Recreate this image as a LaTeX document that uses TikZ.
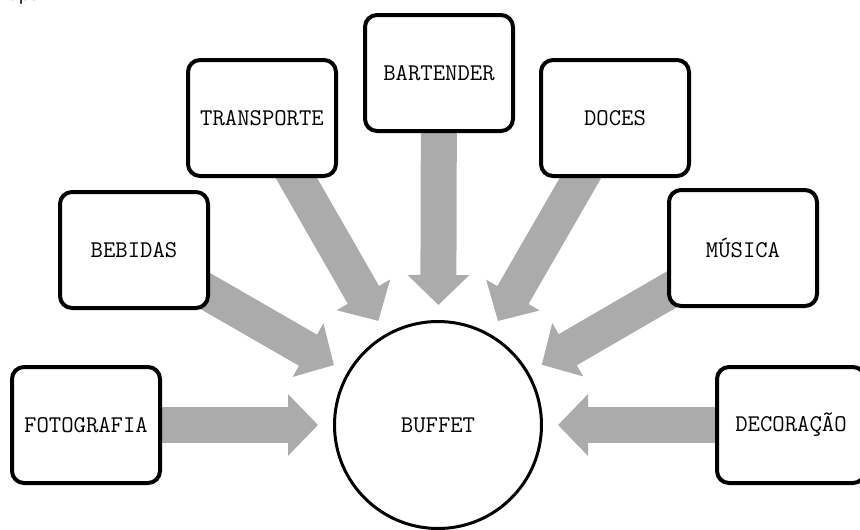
\documentclass[tikz,border=0pt]{standalone}
\usepackage{fontspec}
\setsansfont{Liberation Sans}
\usetikzlibrary{arrows.meta,calc,backgrounds}
\definecolor{arrowgray}{RGB}{171,171,171}
\begin{document}
\begin{tikzpicture}[x=1pt,y=-1pt,
  box/.style={draw=black,line width=4pt,rounded corners=12pt,fill=white,
    minimum width=148pt,minimum height=116pt,inner sep=0pt,
    font=\ttfamily\fontsize{24}{28}\selectfont},
  hub/.style={circle,draw=black,line width=3pt,fill=white,minimum size=207pt,
    inner sep=0pt,font=\ttfamily\fontsize{24}{28}\selectfont},
  flow/.style={line width=36pt,draw=arrowgray,
    -{Triangle[width=60pt,length=30pt]}},
  frag/.style={font=\sffamily\fontsize{18}{20}\selectfont,inner sep=0pt,anchor=base west}]
\useasboundingbox (0,0) rectangle (860,530);
\node[frag] (fragtext) at (9,1) {apo.};
\node[box] (foto) at (86,425) {FOTOGRAFIA};
\node[box] (bebidas) at (134,250) {BEBIDAS};
\node[box] (transp) at (262,118) {TRANSPORTE};
\node[box] (bartender) at (439,73) {BARTENDER};
\node[box] (doces) at (615,118) {DOCES};
\node[box] (musica) at (743,248) {MÚSICA};
\node[box] (deco) at (791,425) {DECORAÇÃO};
\node[hub] (buffet) at (438,425) {BUFFET};
\foreach \n in {foto,bebidas,transp,bartender,doces,musica,deco}
  \coordinate (\n-tip) at ($(buffet.center)!120pt!(\n.center)$);
\begin{scope}[on background layer]
\foreach \n in {foto,bebidas,transp,bartender,doces,musica,deco}
  \draw[flow] (\n.center) -- (\n-tip);
\end{scope}
\end{tikzpicture}
\end{document}
